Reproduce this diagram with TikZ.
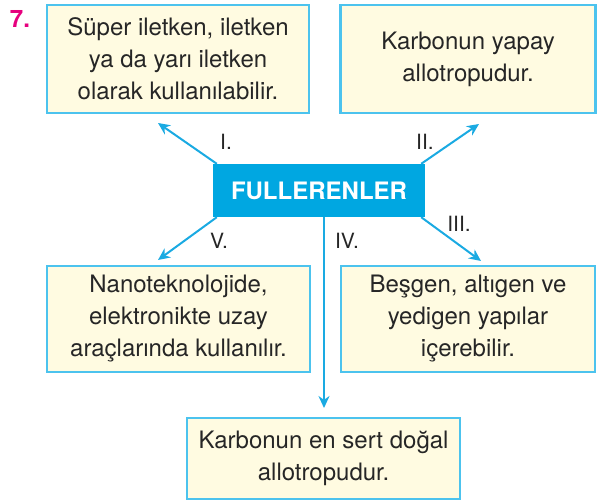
\documentclass[tikz,border=0pt]{standalone}
\usepackage{fontspec}
\setmainfont{TeX Gyre Heros}
\usetikzlibrary{arrows.meta}
\definecolor{bordercol}{HTML}{4CC3EE}
\definecolor{fillcol}{HTML}{FFFBE1}
\definecolor{centercol}{HTML}{00A7E1}
\definecolor{arrowcol}{HTML}{1AAAE2}
\definecolor{numcol}{HTML}{E6007E}
\tikzset{
  infobox/.style={draw=bordercol, line width=2.5pt, fill=fillcol, inner sep=0pt, align=center, font=\fontsize{24}{32}\selectfont, text=black!85},
  centerbox/.style={fill=centercol, inner sep=0pt, font=\fontsize{24}{28}\selectfont\bfseries, text=white},
  conn/.style={arrowcol, line width=2pt, -{Stealth[length=12pt,width=11pt]}},
  lbl/.style={font=\fontsize{21}{24}\selectfont, text=black!85}
}
\begin{document}
\begin{tikzpicture}[x=1pt,y=-1pt]
\useasboundingbox (0,0) rectangle (599,502);
\node[font=\fontsize{24}{26}\selectfont\bfseries, text=numcol] (num) at (20,19) {7.};
\node[infobox, minimum width=262pt, minimum height=108pt] (b1) at (178,59) {Süper iletken, iletken\\ya da yarı iletken\\olarak kullanılabilir.};
\node[infobox, minimum width=255pt, minimum height=108pt] (b2) at (468,59) {Karbonun yapay\\allotropudur.};
\node[infobox, minimum width=263pt, minimum height=106pt] (b3) at (178.5,319) {Nanoteknolojide,\\elektronikte uzay\\araçlarında kullanılır.};
\node[infobox, minimum width=254pt, minimum height=106pt] (b4) at (468,319) {Beşgen, altıgen ve\\yedigen yapılar\\içerebilir.};
\node[infobox, minimum width=273pt, minimum height=81pt] (b5) at (323.5,458.5) {Karbonun en sert doğal\\allotropudur.};
\node[centerbox, minimum width=212pt, minimum height=53pt] (c) at (319,190.5) {FULLERENLER};
\coordinate (t1) at (158,123);
\coordinate (t2) at (479,124);
\coordinate (t3) at (481,261);
\coordinate (t5) at (158,260);
\coordinate (t4) at (324,408);
\draw[conn] (c.north west) ++(4,0) coordinate (s1) -- (t1);
\draw[conn] (c.north east) ++(-4,0) coordinate (s2) -- (t2);
\draw[conn] (c.south east) ++(-4,0) coordinate (s3) -- (t3);
\draw[conn] (c.south west) ++(4,0) coordinate (s5) -- (t5);
\draw[conn] (c.south -| t4) -- (t4);
\node[lbl] (l1) at (226,142) {I.};
\node[lbl] (l2) at (425,142) {II.};
\node[lbl] (l3) at (459,224) {III.};
\node[lbl] (l5) at (219,241) {V.};
\node[lbl] (l4) at (347,241) {IV.};
\end{tikzpicture}
\end{document}
